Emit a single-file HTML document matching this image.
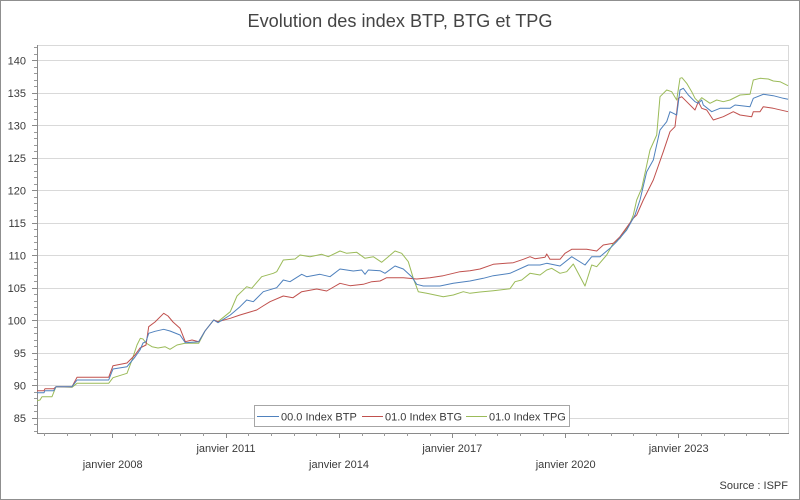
<!DOCTYPE html>
<html>
<head>
<meta charset="utf-8">
<style>
html,body{margin:0;padding:0;background:#fff;}
svg{display:block;}
text{font-family:"Liberation Sans","DejaVu Sans",sans-serif;}
</style>
</head>
<body>
<svg width="800" height="500" viewBox="0 0 800 500" xmlns="http://www.w3.org/2000/svg">
<rect x="0.5" y="0.5" width="799" height="499" fill="#fff" stroke="#8f8f8f"/>
<text x="400" y="27" text-anchor="middle" font-size="18" fill="#444" textLength="305" lengthAdjust="spacingAndGlyphs">Evolution des index BTP, BTG et TPG</text>

<path shape-rendering="crispEdges" stroke="#d9d9d9" fill="none" d="M37 45.5H789M37 60.5H789M37 93.5H789M37 125.5H789M37 158.5H789M37 190.5H789M37 223.5H789M37 255.5H789M37 288.5H789M37 320.5H789M37 353.5H789M37 385.5H789M37 418.5H789M788.5 45V433"/>

<path shape-rendering="crispEdges" stroke="#8a8a8a" fill="none" d="M37.5 45V433M37 433.5H789M32 60.5H37M32 93.5H37M32 125.5H37M32 158.5H37M32 190.5H37M32 223.5H37M32 255.5H37M32 288.5H37M32 320.5H37M32 353.5H37M32 385.5H37M32 418.5H37M112.5 433V438M226.5 433V438M339.5 433V438M452.5 433V438M565.5 433V438M678.5 433V438"/>

<path shape-rendering="crispEdges" stroke="#9a9a9a" fill="none" d="M34 47.5H37M34 54.5H37M34 67.5H37M34 73.5H37M34 80.5H37M34 86.5H37M34 99.5H37M34 106.5H37M34 112.5H37M34 119.5H37M34 132.5H37M34 138.5H37M34 145.5H37M34 151.5H37M34 164.5H37M34 171.5H37M34 177.5H37M34 184.5H37M34 197.5H37M34 203.5H37M34 210.5H37M34 216.5H37M34 229.5H37M34 236.5H37M34 242.5H37M34 249.5H37M34 262.5H37M34 268.5H37M34 275.5H37M34 281.5H37M34 294.5H37M34 301.5H37M34 307.5H37M34 314.5H37M34 327.5H37M34 333.5H37M34 340.5H37M34 346.5H37M34 359.5H37M34 366.5H37M34 372.5H37M34 379.5H37M34 392.5H37M34 398.5H37M34 405.5H37M34 411.5H37M34 424.5H37M34 431.5H37M44.5 433V436M67.5 433V436M90.5 433V436M135.5 433V436M158.5 433V436M180.5 433V436M203.5 433V436M248.5 433V436M271.5 433V436M294.5 433V436M316.5 433V436M362.5 433V436M384.5 433V436M407.5 433V436M430.5 433V436M475.5 433V436M497.5 433V436M520.5 433V436M543.5 433V436M588.5 433V436M611.5 433V436M633.5 433V436M656.5 433V436M701.5 433V436M724.5 433V436M746.5 433V436M769.5 433V436"/>

<g font-size="11" fill="#3a3a3a" text-anchor="end">
<text x="26" y="64.5">140</text>
<text x="26" y="97">135</text>
<text x="26" y="129.5">130</text>
<text x="26" y="162">125</text>
<text x="26" y="194.5">120</text>
<text x="26" y="227">115</text>
<text x="26" y="259.5">110</text>
<text x="26" y="292">105</text>
<text x="26" y="324.5">100</text>
<text x="26" y="357">95</text>
<text x="26" y="389.5">90</text>
<text x="26" y="422">85</text>
</g>

<g font-size="11" fill="#3a3a3a" text-anchor="middle">
<text x="112.7" y="468">janvier 2008</text>
<text x="226" y="452">janvier 2011</text>
<text x="339" y="468">janvier 2014</text>
<text x="452.3" y="452">janvier 2017</text>
<text x="565.7" y="468">janvier 2020</text>
<text x="678.7" y="452">janvier 2023</text>
</g>
<text x="788" y="489" font-size="11" fill="#3a3a3a" text-anchor="end">Source : ISPF</text>

<g fill="none" stroke-width="1" stroke-linejoin="round">
<polyline stroke="#9bbb59" points="37,400.7 40,400 42,396.7 52,396.7 56,386.7 72,387.3 77,383.3 108.7,383.3 113,377.7 127,373.3 132,360 137,345 140.3,338.3 143,339 146,343 152,346.7 158,348 165,346.7 170,349.3 177,345 185,343.3 198.7,343.3 205,331 213.7,320 218,321.7 230.3,311.7 237,296 246.7,286.7 251.7,288.3 261.7,276.7 273.3,273.3 276.7,271.7 283.3,260 295,259 300,255 310,256.7 321.7,254.3 328.3,256.7 340,251 346.7,253.3 356.7,252.3 365,258.3 373.3,256.7 381.7,262.3 388.3,256.7 395,251 401.7,253.3 408.3,261.7 413.3,278.3 418.3,291.7 426.7,293.3 443.3,296.7 453.3,295 463.3,291.7 470,293.3 480,292 493.3,290.7 510,288.7 515,281.7 521.7,280 530,273.3 540,275 546.7,270 551.7,268.3 560,273.3 566.7,271.7 573.3,264 585,286 591.7,265 596.7,266.7 606.7,255 613.3,243.3 620,238.3 630,223.3 633.3,215 636.7,200 641.7,188.3 650,150 656.7,135 660,96.7 666.7,90 671.7,91.7 676.7,100 680,78.3 682,77.7 686.7,83.3 691.7,91.7 695,98.3 698.3,101.7 701.7,97.7 710,103.3 716.7,100 723.3,101.7 730,100 740,95 750,94.3 753.3,80 760,78.3 768.3,79 773.3,81 780,81.7 788,85.7"/>
<polyline stroke="#c0504d" points="37,390.7 44,390.7 45,388.7 53.7,388.7 56,386.7 72,386.7 77,377.3 108.7,377.3 113,365.7 127,363 135,355 140,348 146,345 148.7,326.7 155,322 163.7,313.3 168,316 173,322 180,328.3 185.3,341.7 192,340 198.7,341.7 205,331 213.7,320 218,321.7 230.3,318.3 240,315 250,312 256.7,310 263,306 270,301.7 283.3,296 293,297.7 301.7,291.7 316.7,289 326.7,291 340,283.3 350,285.7 363.3,284.3 371.7,281.7 380,281 386.7,277.7 403.3,277.7 416.7,279 430,277.7 443.3,275.7 460,271.7 470,270.7 480,269 493.3,264.3 513.3,262.7 523.3,259.3 530,256.7 535,258.7 545,257.3 546.7,254 550,259.3 560,259.3 565,253.3 571.7,249.3 586.7,249.3 596.7,251 603.3,245 613.3,243.3 620,236.7 633.3,218.3 636.7,215 643.3,200 653.3,180 663.3,151.7 670,131.7 675,126.7 678.3,98.3 681.7,96.7 686.7,101.7 695,110 698.3,101.7 701.7,108.3 706.7,110 713.3,120 723.3,116.7 733.3,111.7 740,115 751.7,116.7 753.3,111.7 760,111.7 763.3,106.7 773.3,108.3 788,111.7"/>
<polyline stroke="#4f81bd" points="37,392.7 44,392.7 45,390.7 53.7,390.7 56,386.7 72,386.7 77,380 108.7,380 113,369 127,366.7 135,357 140,350 143,343 146,341.7 148.7,333.3 155,331.3 163.7,329.3 170,331 180,335 185.3,342.7 198.7,341.7 205,331 213.7,320 218,322.7 230.3,315 240,306.7 246.7,300 253.3,301.7 263.3,291.7 276.7,287.7 283.3,280 290,281.7 301.7,274.3 306.7,276.7 320,274.3 330,276.7 340,269 353.3,271 361.7,270 365,274.3 368.3,270 380,270.7 385,273.3 395,266 403.3,269 411.7,276.7 416.7,284.3 423.3,286 440,286 453.3,283.3 470,281 483.3,278.3 493.3,275.7 510,273.3 528.3,265 540,265 546.7,263.3 560,266 571.7,256.7 585,265 591.7,256.7 600,256.7 610,248.3 616.7,241.7 626.7,230 635,215 640,200 646.7,171.7 653.3,160 660,130 666.7,121.7 670,111.7 673.3,113.3 676.7,115 680,90 683.3,88.3 688.3,95 695,101.7 698.3,103.3 701.7,100 703.3,105 711.7,111.7 720,108.3 730,108.3 735,105 750,106.7 753.3,98.3 763.3,94.3 773.3,95.7 783.3,98.3 788,99.3"/>
</g>

<rect x="254.5" y="405.5" width="315" height="21" fill="#fff" stroke="#a6a6a6" shape-rendering="crispEdges"/>
<line x1="257" y1="416.5" x2="279" y2="416.5" stroke="#4f81bd"/>
<text x="281" y="420.5" font-size="11" fill="#3a3a3a">00.0 Index BTP</text>
<line x1="362" y1="416.5" x2="383" y2="416.5" stroke="#c0504d"/>
<text x="385" y="420.5" font-size="11" fill="#3a3a3a">01.0 Index BTG</text>
<line x1="466" y1="416.5" x2="487" y2="416.5" stroke="#9bbb59"/>
<text x="489" y="420.5" font-size="11" fill="#3a3a3a">01.0 Index TPG</text>
</svg>
</body>
</html>
